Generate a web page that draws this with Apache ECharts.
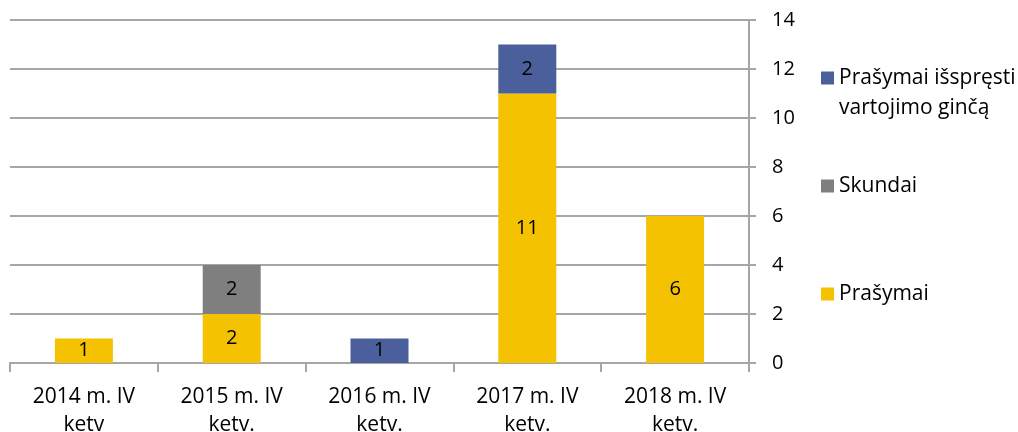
<!DOCTYPE html>
<html>
<head>
<meta charset="utf-8">
<script src="https://cdn.jsdelivr.net/npm/echarts@6/dist/echarts.min.js"></script>
<style>html,body{margin:0;padding:0;background:#fff}#c{width:1018px;height:432px}</style>
</head>
<body>
<div id="c"></div>
<script>
const categories = ['2014 m. IV\nketv', '2015 m. IV\nketv.', '2016 m. IV\nketv.', '2017 m. IV\nketv.', '2018 m. IV\nketv.'];
const prasymai = [1, 2, 0, 11, 6];
const skundai = [0, 2, 0, 0, 0];
const issprestiGinca = [0, 0, 1, 2, 0];
const seriesNames = ['Prašymai', 'Skundai', 'Prašymai išspręsti vartojimo ginčą'];
const yTicks = { min: 0, max: 14, interval: 2 };

const FONT = 'Open Sans';
const colors = ['#F4C200', '#7F7F7F', '#4A5F9C'];

const chart = echarts.init(document.getElementById('c'));
const labelCfg = {
  show: true, position: 'inside', color: '#000', fontFamily: FONT, fontSize: 20,
  formatter: p => p.value === 0 ? '' : String(p.value)
};
const legendText = { color: '#000', fontFamily: FONT, fontSize: 21, lineHeight: 30 };
chart.setOption({
  animation: false,
  color: colors,
  grid: { left: 10, right: 269, top: 20, bottom: 69, containLabel: false, outerBoundsMode: 'none' },
  legend: [
    { data: [seriesNames[2]], orient: 'vertical', left: 821, top: 33, padding: 0, itemWidth: 13, itemHeight: 13, icon: 'rect',
      formatter: () => ' \nPrašymai išspręsti\nvartojimo ginčą',
      textStyle: legendText, selectedMode: false },
    { data: [seriesNames[1]], orient: 'vertical', left: 821, top: 171, padding: 0, itemWidth: 13, itemHeight: 13, icon: 'rect',
      textStyle: legendText, selectedMode: false },
    { data: [seriesNames[0]], orient: 'vertical', left: 821, top: 279, padding: 0, itemWidth: 13, itemHeight: 13, icon: 'rect',
      textStyle: legendText, selectedMode: false }
  ],
  xAxis: {
    type: 'category', data: categories,
    axisLine: { lineStyle: { color: '#A6A6A6', width: 2 } },
    axisTick: { show: true, length: 9, lineStyle: { color: '#A6A6A6', width: 2 } },
    axisLabel: { color: '#000', fontFamily: FONT, fontSize: 21, lineHeight: 28, margin: 20, interval: 0 }
  },
  yAxis: {
    type: 'value', position: 'right', min: yTicks.min, max: yTicks.max, interval: yTicks.interval,
    axisLine: { show: true, lineStyle: { color: '#A6A6A6', width: 2 } },
    axisTick: { show: true, length: 7, lineStyle: { color: '#A6A6A6', width: 2 } },
    splitLine: { lineStyle: { color: '#A6A6A6', width: 2 } },
    axisLabel: { color: '#000', fontFamily: FONT, fontSize: 20, margin: 23 }
  },
  series: [
    { name: seriesNames[0], type: 'bar', stack: 's', data: prasymai, barWidth: 58, label: labelCfg },
    { name: seriesNames[1], type: 'bar', stack: 's', data: skundai, barWidth: 58, label: labelCfg },
    { name: seriesNames[2], type: 'bar', stack: 's', data: issprestiGinca, barWidth: 58, label: labelCfg }
  ]
});
</script>
</body>
</html>
